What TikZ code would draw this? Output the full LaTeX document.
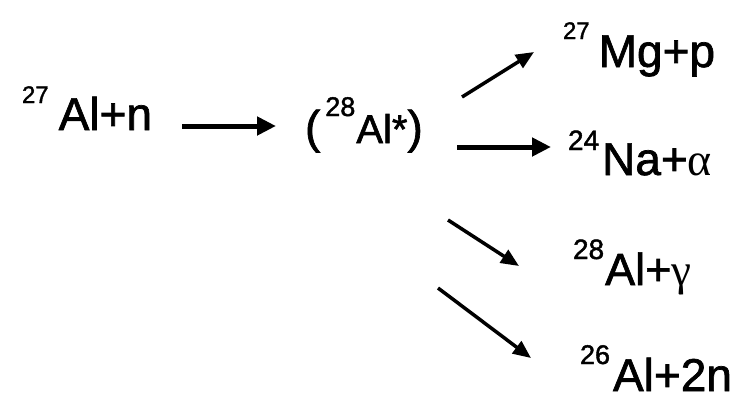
\documentclass[tikz,border=0pt]{standalone}
\usepackage{fontspec}
\setmainfont[FakeBold=1.5]{Liberation Sans}
\newfontfamily\greekfont{Liberation Serif}
\usetikzlibrary{arrows.meta}
% #1 sup size, #2 raise, #3 kern, #4 sup text, #5 main size, #6 main text
\newcommand{\nucl}[6]{\raisebox{#2pt}{\fontsize{#1}{#1}\selectfont #4}\kern#3pt\fontsize{#5}{#5}\selectfont #6}
\tikzset{
  label/.style={anchor=base west, inner sep=0pt, outer sep=0pt, text=black},
  bigarrow/.style={line width=5pt, -{Triangle[length=19pt,width=18pt]}},
  slimarrow/.style={line width=3.5pt, -{Triangle[length=18pt,width=15pt]}}
}
\begin{document}
\begin{tikzpicture}[x=1pt,y=-1pt]
\useasboundingbox[fill=white] (0,0) rectangle (746,400);
% labels
\node[label] (n1) at (22,130) {\nucl{24}{27}{10}{27}{46}{Al+n}};
\node[label] (n2) at (305,143) {\fontsize{46}{46}\selectfont(\kern5pt\nucl{27}{27}{1}{28}{40}{Al*}\fontsize{46}{46}\selectfont)};
\node[label] (n3) at (563,67) {\nucl{24}{28}{9}{27}{46}{Mg+p}};
\node[label] (n4) at (568,175) {\nucl{28}{25}{3}{24}{46}{Na+{\greekfont α}}};
\node[label] (n5) at (573,285) {\nucl{28}{26}{1}{28}{45}{Al+{\greekfont γ}}};
\node[label] (n6) at (580,391) {\nucl{27}{27}{3}{26}{46}{Al+2n}};
% arrow ends
\coordinate (a1s) at (182,126); \coordinate (a1e) at (276,126);
\coordinate (a2s) at (462,97);  \coordinate (a2e) at (534,52);
\coordinate (a3s) at (457,147); \coordinate (a3e) at (551,147);
\coordinate (a4s) at (448,220); \coordinate (a4e) at (519,266);
\coordinate (a5s) at (438,288); \coordinate (a5e) at (531,358);
\draw[bigarrow] (a1s) -- (a1e);
\draw[slimarrow] (a2s) -- (a2e);
\draw[bigarrow] (a3s) -- (a3e);
\draw[slimarrow] (a4s) -- (a4e);
\draw[slimarrow] (a5s) -- (a5e);
\end{tikzpicture}
\end{document}
